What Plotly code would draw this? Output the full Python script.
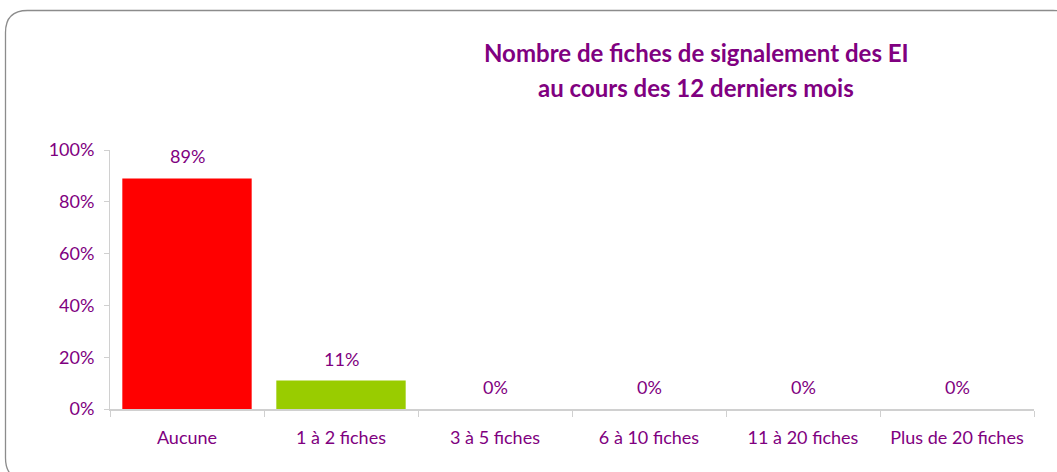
import plotly.graph_objects as go

categories = ["Aucune", "1 à 2 fiches", "3 à 5 fiches", "6 à 10 fiches", "11 à 20 fiches", "Plus de 20 fiches"]
values = [0.89, 0.11, 0.0, 0.0, 0.0, 0.0]
labels = ["89%", "11%", "0%", "0%", "0%", "0%"]
colors = ["#FF0000", "#99CC00", "#4F81BD", "#4F81BD", "#4F81BD", "#4F81BD"]
title_lines = ["Nombre de fiches de signalement des EI", "au cours des 12 derniers mois"]

W, H = 1057, 472
L, R, T, B = 110, 23, 150, 63
PURPLE = "#800080"
FONT = "Lato"

fig = go.Figure()
fig.add_trace(go.Bar(
    x=categories, y=values, marker_color=colors, marker_line_width=0,
))

for c, v, t in zip(categories, values, labels):
    fig.add_annotation(x=c, y=v, text=t, showarrow=False, yanchor="middle",
                       yshift=22, font=dict(color=PURPLE, size=18, family=FONT))

pw, ph = W - L - R, H - T - B
def px(x): return (x - L) / pw
def py(y): return (H - B - y) / ph

x0, x1, y0, y1, r = 5.5, 1075, 10.5, 480, 22
path = (f"M {px(x0+r)} {py(y0)} L {px(x1-r)} {py(y0)} Q {px(x1)} {py(y0)} {px(x1)} {py(y0+r)} "
        f"L {px(x1)} {py(y1-r)} Q {px(x1)} {py(y1)} {px(x1-r)} {py(y1)} "
        f"L {px(x0+r)} {py(y1)} Q {px(x0)} {py(y1)} {px(x0)} {py(y1-r)} "
        f"L {px(x0)} {py(y0+r)} Q {px(x0)} {py(y0)} {px(x0+r)} {py(y0)} Z")
fig.add_shape(type="path", path=path, xref="paper", yref="paper",
              line=dict(color="#8C8C8C", width=1.3), layer="below")

for line, yc in zip(title_lines, [52, 87]):
    fig.add_annotation(text=f"<b>{line}</b>", xref="paper", yref="paper",
                       x=px(696), y=py(yc), xanchor="center", yanchor="middle",
                       showarrow=False, font=dict(color=PURPLE, size=24, family=FONT))

fig.update_layout(
    width=W, height=H, margin=dict(l=L, r=R, t=T, b=B),
    paper_bgcolor="white", plot_bgcolor="white", showlegend=False,
    bargap=0.16, font=dict(family=FONT, color=PURPLE, size=18),
)
fig.update_yaxes(range=[0, 1], tickformat=".0%", dtick=0.2, showgrid=False,
                 showline=True, linecolor="#D0D0D0", linewidth=1,
                 ticks="outside", ticklen=5, tickcolor="#D0D0D0", ticklabelstandoff=6,
                 tickfont=dict(color=PURPLE, size=18, family=FONT), zeroline=False)
fig.update_xaxes(showline=True, linecolor="#D0D0D0", linewidth=1.5,
                 ticks="outside", ticklen=6, tickcolor="#D0D0D0", tickson="boundaries",
                 ticklabelstandoff=12,
                 tickfont=dict(color=PURPLE, size=18, family=FONT), showgrid=False)

fig.write_html("out.html", config={"displayModeBar": False},
               post_script="document.body.style.margin='0';document.body.style.overflow='hidden';")
